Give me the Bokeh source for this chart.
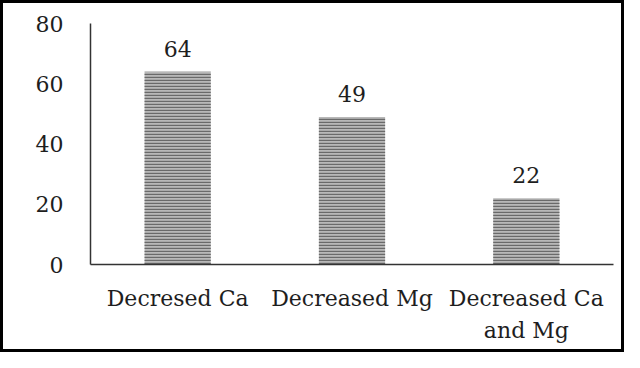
from bokeh.plotting import figure
from bokeh.models import (FactorRange, Range1d, FixedTicker, CategoricalAxis,
                          ColumnDataSource, CustomJSTickFormatter)
from bokeh.core.properties import value
from bokeh.embed import file_html
from bokeh.resources import INLINE

categories = ["Decresed Ca", "Decreased Mg", "Decreased Ca and Mg"]
label_line1 = ["Decresed Ca", "Decreased Mg", "Decreased Ca"]
label_line2 = ["", "", "and Mg"]
values = [64, 49, 22]
value_labels = ["64", "49", "22"]
y_ticks = [0, 20, 40, 60, 80]

FONT = "DejaVu Serif"
FS = "22px"
TXT = "#1e1e1e"

src = ColumnDataSource(dict(cat=categories, val=values, lab=value_labels))

p = figure(
    x_range=FactorRange(*categories),
    y_range=Range1d(0, 80),
    width=624, height=352,
    output_backend="svg", toolbar_location=None,
    min_border_left=87, min_border_right=14, min_border_top=20, min_border_bottom=91,
)
p.styles = {"border": "3px solid black"}
p.outline_line_color = None
p.grid.grid_line_color = None
p.background_fill_color = "white"
p.border_fill_color = "white"

p.vbar(x="cat", top="val", width=0.38, source=src,
       fill_color="#b8b8b8", line_color=None,
       hatch_pattern="horizontal_line", hatch_color="#6a6a6a",
       hatch_scale=3, hatch_weight=1.4)

p.text(x="cat", y="val", text="lab", source=src,
       text_font=value(FONT), text_font_size=FS, text_color=TXT,
       text_align="center", text_baseline="alphabetic", y_offset=-23)

# y axis
p.yaxis.ticker = FixedTicker(ticks=y_ticks)
p.yaxis.major_tick_line_color = None
p.yaxis.minor_tick_line_color = None
p.yaxis.major_tick_out = 0
p.yaxis.major_label_standoff = 27
p.yaxis.axis_line_color = "#333333"
p.yaxis.axis_line_width = 1.5
p.yaxis.major_label_text_font = FONT
p.yaxis.major_label_text_font_size = FS
p.yaxis.major_label_text_color = TXT

# x axis (first line of labels)
xa = p.xaxis[0]
xa.formatter = CustomJSTickFormatter(args=dict(cats=categories, labs=label_line1),
                                     code="return labs[cats.indexOf(tick)];")
xa.major_tick_line_color = None
xa.major_tick_out = 0
xa.major_label_standoff = 21
xa.axis_line_color = "#333333"
xa.axis_line_width = 1.5
xa.major_label_text_font = FONT
xa.major_label_text_font_size = FS
xa.major_label_text_color = TXT

# second line of labels
xa2 = CategoricalAxis(formatter=CustomJSTickFormatter(args=dict(cats=categories, labs=label_line2),
                                                      code="return labs[cats.indexOf(tick)];"))
xa2.axis_line_color = None
xa2.major_tick_line_color = None
xa2.major_tick_out = 0
xa2.major_label_standoff = 4
xa2.major_label_text_font = FONT
xa2.major_label_text_font_size = FS
xa2.major_label_text_color = TXT
p.add_layout(xa2, "below")

open("out.html", "w").write(file_html(p, INLINE))
